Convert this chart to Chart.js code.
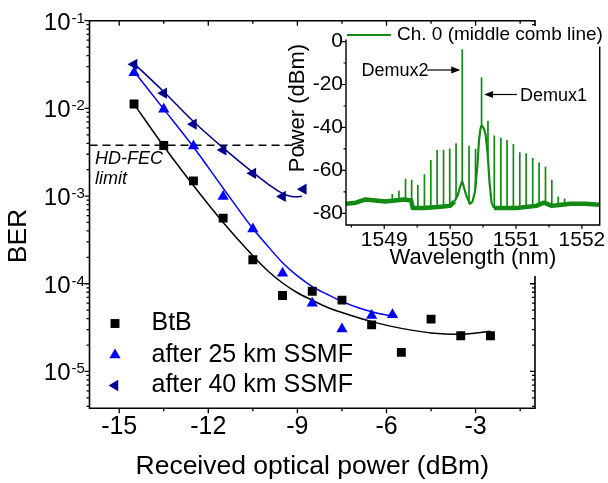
<!DOCTYPE html>
<html>
<head>
<meta charset="utf-8">
<script src="https://cdn.jsdelivr.net/npm/chart.js@4/dist/chart.umd.min.js"></script>
<style>
  html, body { margin: 0; padding: 0; background: #fff; }
  #wrap { position: relative; width: 608px; height: 483px; overflow: hidden; }
  #main { position: absolute; left: 0; top: 0; }
  #inset { position: absolute; left: 286px; top: 24px; }
</style>
</head>
<body>
<div id="wrap">
  <canvas id="main" width="608" height="483"></canvas>
  <canvas id="inset" width="322" height="252"></canvas>
</div>
<script>
// ---------- BER vs received optical power ----------
const seriesNames = ['BtB', 'after 25 km SSMF', 'after 40 km SSMF'];

const btbPower = [-14.5, -13.5, -12.5, -11.5, -10.5, -9.5, -8.5, -7.5, -6.5, -5.5, -4.5, -3.5, -2.5];
const btbBer   = [1.12e-2, 3.77e-3, 1.49e-3, 5.6e-4, 1.88e-4, 7.35e-5, 8.2e-5, 6.5e-5, 3.4e-5, 1.65e-5, 3.95e-5, 2.55e-5, 2.55e-5];

const km25Power = [-14.5, -13.5, -12.5, -11.5, -10.5, -9.5, -8.5, -7.5, -6.5, -5.8];
const km25Ber   = [2.55e-2, 9.8e-3, 3.73e-3, 9.9e-4, 4.2e-4, 1.32e-4, 6.0e-5, 3.04e-5, 4.35e-5, 4.43e-5];

const km40Power = [-14.5, -13.5, -12.5, -11.5, -10.5, -9.5, -8.8];
const km40Ber   = [3.18e-2, 1.49e-2, 6.6e-3, 3.36e-3, 1.82e-3, 9.9e-4, 1.2e-3];

// fitted trend curves
const btbFitPower = [-14.5, -13.5, -12.5, -11.5, -10.5, -10.0, -9.5, -9.0, -8.5, -8.0, -7.5, -6.5, -5.5, -4.5, -3.5, -2.5];
const btbFitBer   = [1.12e-2, 3.7e-3, 1.32e-3, 5.0e-4, 2.09e-4, 1.41e-4, 1.02e-4, 7.9e-5, 6.5e-5, 5.4e-5, 4.7e-5, 3.7e-5, 3.1e-5, 2.75e-5, 2.66e-5, 2.88e-5];
const km25FitPower = [-14.5, -13.5, -12.5, -11.5, -10.5, -10.0, -9.5, -9.0, -8.5, -8.0, -7.5, -7.0, -6.5, -6.0, -5.65];
const km25FitBer   = [2.63e-2, 9.8e-3, 3.63e-3, 1.23e-3, 4.27e-4, 2.69e-4, 1.74e-4, 1.23e-4, 9.3e-5, 7.6e-5, 6.3e-5, 5.4e-5, 4.8e-5, 4.4e-5, 4.27e-5];
const km40FitPower = [-14.5, -13.5, -12.5, -11.5, -10.5, -10.0, -9.5, -9.2, -9.0, -8.85];
const km40FitBer   = [3.24e-2, 1.55e-2, 7.1e-3, 3.55e-3, 1.86e-3, 1.38e-3, 1.07e-3, 9.9e-4, 9.8e-4, 9.95e-4];

// hard-decision FEC threshold
const fecBer = 3.8e-3;
const fecSpan = [-16, -8.8];

const powerTicks = [-15, -12, -9, -6, -3];
const berDecadeExp = [-1, -2, -3, -4, -5];

// ---------- inset: optical spectrum ----------
const combWl = [1549.123, 1549.223, 1549.323, 1549.416, 1549.510, 1549.610, 1549.707, 1549.803, 1549.900, 1549.994,
                1550.090, 1550.184, 1550.287, 1550.385, 1550.477, 1550.574, 1550.670, 1550.770, 1550.864, 1550.960,
                1551.057, 1551.154, 1551.253, 1551.350, 1551.447, 1551.543, 1551.640, 1551.737];
const combPeak = [-71, -69.5, -63.9, -64.3, -66.8, -61.8, -55.1, -50.5, -50.5, -49.8,
                  -47.4, -3.6, -48.5, -50, -16.6, -36.9, -43.7, -44.8, -45.8, -47.7,
                  -51.5, -52, -54.2, -56.3, -58.3, -64.3, -72.1, -73.1];
const combBase = [-74.5, -74, -74, -74, -77, -77, -77, -77, -77, -76.5,
                  -73, -65, -75.5, -68, -39, -52, -77.5, -77.5, -77.5, -77.5,
                  -77.5, -77, -77, -76.5, -75, -76.5, -76, -75.5];

// ASE noise floor either side of the demux filters (null = gap)
const floorWl  = [1548.420, 1548.569, 1548.717, 1548.866, 1549.015, 1549.164, 1549.297, 1549.409, 1549.431, 1549.595,
                  1549.818, 1549.997, 1550.066, 1550.370, 1550.666, 1551.008, 1551.306, 1551.425, 1551.543, 1551.692,
                  1551.826, 1552.049, 1552.272];
const floorDbm = [-75.5, -75, -73.5, -74, -74.5, -74, -73.5, -74, -77.5, -77.5,
                  -77, -76.5, -74.5, null, -77.5, -77.5, -76.5, -75, -76.5, -76,
                  -75.5, -75.5, -76];

// filtered trace around the two demux passbands
const filterWl  = [1550.066, 1550.116, 1550.153, 1550.184, 1550.215, 1550.249, 1550.301, 1550.339, 1550.376, 1550.413,
                   1550.438, 1550.458, 1550.477, 1550.513, 1550.539, 1550.569, 1550.599, 1550.629, 1550.666];
const filterDbm = [-74.5, -71.5, -67.5, -65, -68.5, -72, -75.5, -74.5, -70, -58,
                   -46, -41, -39, -40.5, -43.5, -52, -66, -75, -77.5];

const wlTicks = [1549, 1550, 1551, 1552];
const dbmTicks = [0, -20, -40, -60, -80];
const demuxNames = ['Demux2', 'Demux1'];
const demuxIndex = [11, 14];

// ---------- styling ----------
const FONT = '"Liberation Sans", Arial, Helvetica, sans-serif';
const BLACK = '#000000';
const BLUE = '#0000ff';
const NAVY = '#00008b';
const GREEN = '#138a13';

const pts = (xs, ys) => xs.map((v, i) => ({ x: v, y: ys[i] }));

const markerStyles = [
  { pointStyle: 'rect', radius: 6.3, rotation: 0, color: BLACK },
  { pointStyle: 'triangle', radius: 6.5, rotation: 0, color: BLUE },
  { pointStyle: 'triangle', radius: 6.5, rotation: -90, color: NAVY }
];

function markerSet(label, data, st) {
  return {
    label, data, showLine: false,
    pointStyle: st.pointStyle, pointRadius: st.radius, pointRotation: st.rotation,
    pointBackgroundColor: st.color, pointBorderColor: st.color, pointBorderWidth: 0,
    pointHoverRadius: st.radius
  };
}
function curveSet(data, color, dash) {
  return {
    data, showLine: true, pointRadius: 0, pointHoverRadius: 0,
    borderColor: color, borderWidth: 1.5, borderDash: dash || [],
    cubicInterpolationMode: dash ? 'default' : 'monotone', tension: 0, fill: false
  };
}

const mainDecor = {
  id: 'mainDecor',
  afterDraw(chart) {
    const { ctx, chartArea: a, scales: { x, y } } = chart;
    ctx.save();
    ctx.strokeStyle = BLACK;
    ctx.lineWidth = 1.6;
    ctx.beginPath();
    ctx.moveTo(a.left, a.top); ctx.lineTo(a.right, a.top); ctx.lineTo(a.right, a.bottom);
    ctx.lineTo(a.left, a.bottom); ctx.closePath();
    ctx.stroke();

    // power axis ticks (bottom outward, top inward)
    ctx.lineWidth = 1.3;
    ctx.beginPath();
    for (let v = -15; v <= -1.5; v += 1.5) {
      const px = x.getPixelForValue(v);
      const len = (v % 3 === 0) ? 5 : 3;
      ctx.moveTo(px, a.bottom); ctx.lineTo(px, a.bottom + len);
      ctx.moveTo(px, a.top); ctx.lineTo(px, a.top + len);
    }
    // BER axis ticks (left outward, right inward)
    for (let e = -6; e <= -1; e++) {
      for (let m = 1; m <= 9; m++) {
        const v = m * Math.pow(10, e);
        if (v < y.min * 0.999 || v > y.max * 1.001) continue;
        const py = y.getPixelForValue(v);
        const len = m === 1 ? 5 : 3;
        ctx.moveTo(a.left - len, py); ctx.lineTo(a.left, py);
        ctx.moveTo(a.right - len, py); ctx.lineTo(a.right, py);
      }
    }
    ctx.stroke();

    // decade labels with superscript exponents
    ctx.fillStyle = BLACK;
    berDecadeExp.forEach(e => {
      const py = y.getPixelForValue(Math.pow(10, e));
      ctx.font = '24px ' + FONT;
      ctx.textAlign = 'right';
      ctx.textBaseline = 'alphabetic';
      ctx.fillText('10', 70.5, py + 9);
      ctx.font = '15px ' + FONT;
      ctx.textAlign = 'left';
      ctx.fillText(String(e), 71.5, py + 2);
    });

    // axis titles
    ctx.font = '26.5px ' + FONT;
    ctx.textAlign = 'center';
    ctx.textBaseline = 'middle';
    ctx.fillText('Received optical power (dBm)', (a.left + a.right) / 2, 467);
    ctx.save();
    ctx.translate(19, 236);
    ctx.rotate(-Math.PI / 2);
    ctx.fillText('BER', 0, 0);
    ctx.restore();

    // FEC annotation
    ctx.font = 'italic 18px ' + FONT;
    ctx.textAlign = 'left';
    ctx.fillText('HD-FEC', 95, 159);
    ctx.fillText('limit', 95, 179);

    // legend
    const rows = [323.5, 355, 385.5];
    seriesNames.forEach((name, i) => {
      const st = markerStyles[i];
      ctx.fillStyle = st.color;
      ctx.strokeStyle = st.color;
      Chart.helpers.drawPoint(ctx, { pointStyle: st.pointStyle, radius: st.radius, rotation: st.rotation, borderWidth: 0 }, 115, rows[i]);
      ctx.fillStyle = BLACK;
      ctx.font = '25px ' + FONT;
      ctx.textAlign = 'left';
      ctx.textBaseline = 'middle';
      ctx.fillText(name, 151.5, rows[i]);
    });
    ctx.restore();
  }
};

new Chart(document.getElementById('main'), {
  type: 'scatter',
  data: {
    datasets: [
      markerSet(seriesNames[0], pts(btbPower, btbBer), markerStyles[0]),
      markerSet(seriesNames[1], pts(km25Power, km25Ber), markerStyles[1]),
      markerSet(seriesNames[2], pts(km40Power, km40Ber), markerStyles[2]),
      curveSet(pts(btbFitPower, btbFitBer), BLACK),
      curveSet(pts(km25FitPower, km25FitBer), BLUE),
      curveSet(pts(km40FitPower, km40FitBer), NAVY),
      curveSet(fecSpan.map(v => ({ x: v, y: fecBer })), BLACK, [8, 5])
    ]
  },
  options: {
    responsive: false,
    devicePixelRatio: 1,
    animation: false,
    events: [],
    layout: { padding: { left: 0, top: 20.7, right: 73, bottom: 0 }, autoPadding: false },
    plugins: { legend: { display: false }, tooltip: { enabled: false } },
    scales: {
      x: {
        type: 'linear', min: -16, max: -1, position: 'bottom',
        grid: { display: false, drawTicks: false }, border: { display: false },
        ticks: { color: BLACK, font: { family: FONT, size: 25 }, padding: 4, callback: v => String(v) },
        afterBuildTicks: s => { s.ticks = powerTicks.map(v => ({ value: v })); },
        afterFit: s => { s.height = 483 - 408.3; }
      },
      y: {
        type: 'logarithmic', min: 3.8e-6, max: 0.1, position: 'left',
        grid: { display: false, drawTicks: false }, border: { display: false },
        ticks: { display: false },
        afterFit: s => { s.width = 89.5; }
      }
    }
  },
  plugins: [mainDecor]
});

// ---------- inset ----------
const combPoints = [];
combWl.forEach((w, i) => {
  combPoints.push({ x: w, y: combBase[i] }, { x: w, y: combPeak[i] }, { x: w, y: null });
});

const insetDecor = {
  id: 'insetDecor',
  beforeDraw(chart) {
    const ctx = chart.ctx;
    ctx.save();
    ctx.fillStyle = '#ffffff';
    ctx.fillRect(24, 2, chart.width - 24, chart.height - 2);
    ctx.restore();
  },
  afterDraw(chart) {
    const { ctx, chartArea: a, scales: { x, y } } = chart;
    ctx.save();
    ctx.strokeStyle = BLACK;
    ctx.lineWidth = 1.4;
    ctx.beginPath();
    ctx.moveTo(a.left, a.top); ctx.lineTo(a.left, a.bottom); ctx.lineTo(a.right, a.bottom); ctx.lineTo(a.right, a.top + 7);
    ctx.stroke();

    ctx.lineWidth = 1.2;
    ctx.beginPath();
    for (let v = 1548.5; v <= 1552.01; v += 0.5) {
      const px = x.getPixelForValue(v);
      const len = Math.abs(v - Math.round(v)) < 1e-6 ? 4 : 2.5;
      ctx.moveTo(px, a.bottom); ctx.lineTo(px, a.bottom + len);
    }
    for (let v = 0; v >= -80; v -= 10) {
      const py = y.getPixelForValue(v);
      const len = v % 20 === 0 ? 4 : 2.5;
      ctx.moveTo(a.left - len, py); ctx.lineTo(a.left, py);
    }
    ctx.stroke();

    // legend
    ctx.strokeStyle = GREEN;
    ctx.lineWidth = 2;
    ctx.beginPath();
    ctx.moveTo(a.left + 1, 11); ctx.lineTo(a.left + 45, 11);
    ctx.stroke();
    ctx.fillStyle = BLACK;
    ctx.font = '19px ' + FONT;
    ctx.textAlign = 'left';
    ctx.textBaseline = 'middle';
    ctx.fillText('Ch. 0 (middle comb line)', a.left + 51, 11);

    // axis titles
    ctx.font = '22px ' + FONT;
    ctx.textAlign = 'center';
    ctx.fillText('Wavelength (nm)', (a.left + a.right) / 2, 234);
    ctx.save();
    ctx.translate(12, 84);
    ctx.rotate(-Math.PI / 2);
    ctx.fillText('Power (dBm)', 0, 0);
    ctx.restore();

    // demux markers
    ctx.font = '18px ' + FONT;
    ctx.strokeStyle = BLACK;
    ctx.fillStyle = BLACK;
    ctx.lineWidth = 1.2;
    const arrow = (x0, x1, yy) => {
      const dir = Math.sign(x1 - x0);
      ctx.beginPath(); ctx.moveTo(x0, yy); ctx.lineTo(x1 - dir * 6, yy); ctx.stroke();
      ctx.beginPath(); ctx.moveTo(x1, yy); ctx.lineTo(x1 - dir * 9, yy - 3.5); ctx.lineTo(x1 - dir * 9, yy + 3.5); ctx.closePath(); ctx.fill();
    };
    const d2 = x.getPixelForValue(combWl[demuxIndex[0]]);
    const d1 = x.getPixelForValue(combWl[demuxIndex[1]]);
    ctx.textAlign = 'left';
    ctx.fillText(demuxNames[0], 75.5, 47);
    arrow(141, d2 - 2, 46);
    ctx.fillText(demuxNames[1], 234, 72.5);
    arrow(231, d1 + 2.5, 70.5);
    ctx.restore();
  }
};

new Chart(document.getElementById('inset'), {
  type: 'scatter',
  data: {
    datasets: [
      { data: combPoints, showLine: true, spanGaps: false, pointRadius: 0, borderColor: GREEN, borderWidth: 1.7, tension: 0 },
      { data: pts(filterWl, filterDbm), showLine: true, pointRadius: 0, borderColor: GREEN, borderWidth: 2.2, tension: 0, borderJoinStyle: 'round' },
      { data: pts(floorWl, floorDbm), showLine: true, spanGaps: false, pointRadius: 0, borderColor: GREEN, borderWidth: 4.5, tension: 0, borderJoinStyle: 'round' }
    ]
  },
  options: {
    responsive: false,
    devicePixelRatio: 1,
    animation: false,
    events: [],
    layout: { padding: { left: 0, top: 14, right: 3, bottom: 0 }, autoPadding: false },
    plugins: { legend: { display: false }, tooltip: { enabled: false } },
    scales: {
      x: {
        type: 'linear', min: 1548.42, max: 1552.27, position: 'bottom',
        grid: { display: false, drawTicks: false }, border: { display: false },
        ticks: { color: BLACK, font: { family: FONT, size: 21 }, padding: 2.5, callback: v => String(v) },
        afterBuildTicks: s => { s.ticks = wlTicks.map(v => ({ value: v })); },
        afterFit: s => { s.height = 252 - 201; }
      },
      y: {
        type: 'linear', min: -85.4, max: 0.9, position: 'left',
        grid: { display: false, drawTicks: false }, border: { display: false },
        ticks: { color: BLACK, font: { family: FONT, size: 21 }, padding: 3, callback: v => String(v) },
        afterBuildTicks: s => { s.ticks = dbmTicks.map(v => ({ value: v })); },
        afterFit: s => { s.width = 60; }
      }
    }
  },
  plugins: [insetDecor]
});
</script>
</body>
</html>
